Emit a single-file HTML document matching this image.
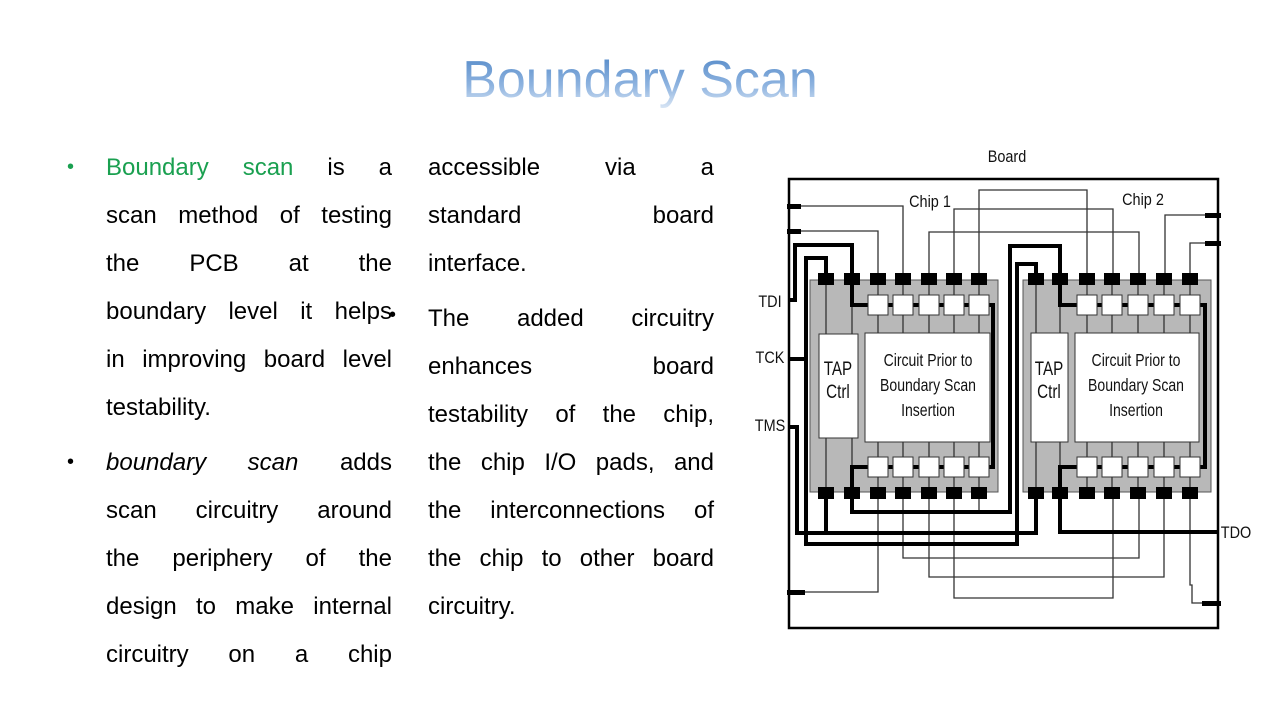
<!DOCTYPE html>
<html><head><meta charset="utf-8"><style>
body{margin:0;background:#fff;width:1280px;height:720px;overflow:hidden;position:relative;font-family:"Liberation Sans",sans-serif}
.t{position:absolute;left:0;width:1280px;top:50px;text-align:center;font-size:52px;line-height:60px}
.t span{background:linear-gradient(#4f86c6 0%,#8fb4e0 60%,#dbe7f5 100%);-webkit-background-clip:text;background-clip:text;color:transparent}
.l{position:absolute;font-size:24px;line-height:28px;color:#000;text-align:justify;text-align-last:justify;white-space:nowrap}
.l.n{text-align-last:left}
.g{color:#1aa050}
.b{position:absolute;font-size:20px}
</style></head><body>
<div class="t"><span>Boundary Scan</span></div>
<div class="b" style="left:67px;top:156px;color:#1aa050">•</div>
<div class="b" style="left:67px;top:451px">•</div>
<div class="b" style="left:389px;top:304px">•</div>
<div class="l" style="left:106px;width:286px;top:154px"><span class="g">Boundary scan</span> is a</div>
<div class="l" style="left:106px;width:286px;top:202px">scan method of testing</div>
<div class="l" style="left:106px;width:286px;top:250px">the PCB at the</div>
<div class="l" style="left:106px;width:286px;top:298px">boundary level it helps</div>
<div class="l" style="left:106px;width:286px;top:346px">in improving board level</div>
<div class="l n" style="left:106px;width:286px;top:394px">testability.</div>
<div class="l" style="left:106px;width:286px;top:449px"><i>boundary scan</i> adds</div>
<div class="l" style="left:106px;width:286px;top:497px">scan circuitry around</div>
<div class="l" style="left:106px;width:286px;top:545px">the periphery of the</div>
<div class="l" style="left:106px;width:286px;top:593px">design to make internal</div>
<div class="l" style="left:106px;width:286px;top:641px">circuitry on a chip</div>
<div class="l" style="left:428px;width:286px;top:154px">accessible via a</div>
<div class="l" style="left:428px;width:286px;top:202px">standard board</div>
<div class="l n" style="left:428px;width:286px;top:250px">interface.</div>
<div class="l" style="left:428px;width:286px;top:305px">The added circuitry</div>
<div class="l" style="left:428px;width:286px;top:353px">enhances board</div>
<div class="l" style="left:428px;width:286px;top:401px">testability of the chip,</div>
<div class="l" style="left:428px;width:286px;top:449px">the chip I/O pads, and</div>
<div class="l" style="left:428px;width:286px;top:497px">the interconnections of</div>
<div class="l" style="left:428px;width:286px;top:545px">the chip to other board</div>
<div class="l n" style="left:428px;width:286px;top:593px">circuitry.</div>

<svg style="position:absolute;left:0;top:0" width="1280" height="720" font-family="Liberation Sans Narrow, Liberation Sans, sans-serif">
<g font-size="17" fill="#111" text-anchor="middle" transform="scale(1,1)">
<text x="1007" y="162" transform="translate(1007,0) scale(0.85,1) translate(-1007,0)">Board</text>
<text x="930" y="207" transform="translate(930,0) scale(0.85,1) translate(-930,0)">Chip 1</text>
<text x="1143" y="205" transform="translate(1143,0) scale(0.85,1) translate(-1143,0)">Chip 2</text>
<text x="770" y="307" transform="translate(770,0) scale(0.85,1) translate(-770,0)">TDI</text>
<text x="770" y="363" transform="translate(770,0) scale(0.85,1) translate(-770,0)">TCK</text>
<text x="770" y="431" transform="translate(770,0) scale(0.85,1) translate(-770,0)">TMS</text>
<text x="1236" y="538" transform="translate(1236,0) scale(0.85,1) translate(-1236,0)">TDO</text>
</g>
<rect x="789" y="179" width="429" height="449" fill="none" stroke="#000" stroke-width="2.5"/>
<rect x="810" y="280" width="188" height="212" fill="#b8b8b8" stroke="#555"/>
<rect x="1023" y="280" width="188" height="212" fill="#b8b8b8" stroke="#555"/>
<g stroke="#333" stroke-width="1.3" fill="none">
<path d="M826 279V493M852 279V493M878 279V493M903 279V493M929 279V493M954 279V493M979 279V493"/>
<path d="M1036 279V493M1060 279V493M1087 279V493M1112 279V493M1138 279V493M1164 279V493M1190 279V493"/>
<path d="M789 206H903V279M789 231H878V279M979 279V190H1087V279M954 279V209H1113V279M929 279V232H1139V279M1165 279V215H1218M1190 279V243H1218"/>
<path d="M903 493V558H1139V493M929 493V577H1164V493M954 493V598H1113V493M878 493V592H789M1190 493V585H1192V603H1218M979 493V512"/>
</g>
<g fill="#fff" stroke="#333">
<rect x="819" y="334" width="39" height="104"/>
<rect x="865" y="333" width="125" height="109"/>
<rect x="1031" y="333" width="37" height="109"/>
<rect x="1075" y="333" width="124" height="109"/>
</g>
<g stroke="#000" stroke-width="4" fill="none">
<path d="M789 300H795V245H852V305H993V467H852V512H1010V246H1060V305H1205V467H1060V532H1218"/>
<path d="M789 359H806V258H826V279M806 359V544H1017V264H1036V279"/>
<path d="M789 427H797V533H1036V493M826 493V533"/>
</g>
<g fill="#fff" stroke="#333">
<rect x="868" y="295" width="20" height="20"/><rect x="893" y="295" width="20" height="20"/><rect x="919" y="295" width="20" height="20"/><rect x="944" y="295" width="20" height="20"/><rect x="969" y="295" width="20" height="20"/>
<rect x="1077" y="295" width="20" height="20"/><rect x="1102" y="295" width="20" height="20"/><rect x="1128" y="295" width="20" height="20"/><rect x="1154" y="295" width="20" height="20"/><rect x="1180" y="295" width="20" height="20"/>
<rect x="868" y="457" width="20" height="20"/><rect x="893" y="457" width="20" height="20"/><rect x="919" y="457" width="20" height="20"/><rect x="944" y="457" width="20" height="20"/><rect x="969" y="457" width="20" height="20"/>
<rect x="1077" y="457" width="20" height="20"/><rect x="1102" y="457" width="20" height="20"/><rect x="1128" y="457" width="20" height="20"/><rect x="1154" y="457" width="20" height="20"/><rect x="1180" y="457" width="20" height="20"/>
</g>
<g fill="#000">
<rect x="818" y="273" width="16" height="12"/><rect x="844" y="273" width="16" height="12"/><rect x="870" y="273" width="16" height="12"/><rect x="895" y="273" width="16" height="12"/><rect x="921" y="273" width="16" height="12"/><rect x="946" y="273" width="16" height="12"/><rect x="971" y="273" width="16" height="12"/>
<rect x="1028" y="273" width="16" height="12"/><rect x="1052" y="273" width="16" height="12"/><rect x="1079" y="273" width="16" height="12"/><rect x="1104" y="273" width="16" height="12"/><rect x="1130" y="273" width="16" height="12"/><rect x="1156" y="273" width="16" height="12"/><rect x="1182" y="273" width="16" height="12"/>
<rect x="818" y="487" width="16" height="12"/><rect x="844" y="487" width="16" height="12"/><rect x="870" y="487" width="16" height="12"/><rect x="895" y="487" width="16" height="12"/><rect x="921" y="487" width="16" height="12"/><rect x="946" y="487" width="16" height="12"/><rect x="971" y="487" width="16" height="12"/>
<rect x="1028" y="487" width="16" height="12"/><rect x="1052" y="487" width="16" height="12"/><rect x="1079" y="487" width="16" height="12"/><rect x="1104" y="487" width="16" height="12"/><rect x="1130" y="487" width="16" height="12"/><rect x="1156" y="487" width="16" height="12"/><rect x="1182" y="487" width="16" height="12"/>
<rect x="787" y="204" width="14" height="5"/><rect x="787" y="229" width="14" height="5"/><rect x="787" y="590" width="18" height="5"/>
<rect x="1205" y="213" width="16" height="5"/><rect x="1205" y="241" width="16" height="5"/><rect x="1202" y="601" width="19" height="5"/>
</g>
<g font-size="19" fill="#111" text-anchor="middle">
<text x="838" y="375" transform="translate(838,0) scale(0.8,1) translate(-838,0)">TAP</text>
<text x="838" y="398" transform="translate(838,0) scale(0.8,1) translate(-838,0)">Ctrl</text>
<text x="1049" y="375" transform="translate(1049,0) scale(0.8,1) translate(-1049,0)">TAP</text>
<text x="1049" y="398" transform="translate(1049,0) scale(0.8,1) translate(-1049,0)">Ctrl</text>
<text x="928" y="366" font-size="18" transform="translate(928,0) scale(0.78,1) translate(-928,0)">Circuit Prior to</text>
<text x="928" y="391" font-size="18" transform="translate(928,0) scale(0.78,1) translate(-928,0)">Boundary Scan</text>
<text x="928" y="416" font-size="18" transform="translate(928,0) scale(0.78,1) translate(-928,0)">Insertion</text>
<text x="1136" y="366" font-size="18" transform="translate(1136,0) scale(0.78,1) translate(-1136,0)">Circuit Prior to</text>
<text x="1136" y="391" font-size="18" transform="translate(1136,0) scale(0.78,1) translate(-1136,0)">Boundary Scan</text>
<text x="1136" y="416" font-size="18" transform="translate(1136,0) scale(0.78,1) translate(-1136,0)">Insertion</text>
</g>
</svg>
</body></html>
